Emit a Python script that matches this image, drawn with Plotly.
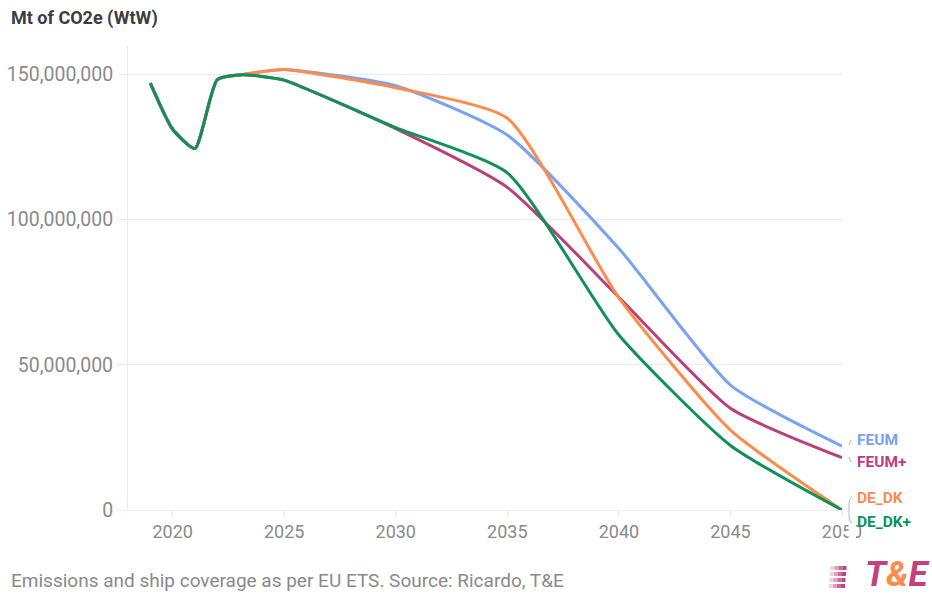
import plotly.graph_objects as go

# Well-to-wake emissions, tonnes CO2e
years = [2019, 2020, 2021, 2022, 2023, 2024, 2025, 2030, 2035, 2040, 2045, 2050]
feum = [146_900_000, 131_000_000, 124_400_000, 148_100_000, 149_700_000, 150_800_000,
        151_600_000, 146_000_000, 129_000_000, 90_000_000, 43_000_000, 22_000_000]
feum_plus = [146_900_000, 131_000_000, 124_400_000, 148_100_000, 149_700_000, 149_200_000,
             147_900_000, 131_200_000, 111_000_000, 73_200_000, 35_000_000, 18_000_000]
de_dk = [146_900_000, 131_000_000, 124_400_000, 148_100_000, 149_700_000, 150_800_000,
         151_600_000, 145_300_000, 134_800_000, 73_000_000, 27_500_000, 0]
de_dk_plus = [146_900_000, 131_000_000, 124_400_000, 148_100_000, 149_700_000, 149_200_000,
              147_900_000, 131_600_000, 116_000_000, 60_200_000, 22_200_000, 0]

series_names = ["FEUM", "FEUM+", "DE_DK", "DE_DK+"]
series_values = [feum, feum_plus, de_dk, de_dk_plus]
series_colors = ["#79a3f2", "#bb3f78", "#fd8b4c", "#0f9158"]

y_ticks = [0, 50_000_000, 100_000_000, 150_000_000]
x_ticks = [2020, 2025, 2030, 2035, 2040, 2045, 2050]

W, H = 932, 596
L, R, T, B = 128, 842, 45, 510


def px(x):
    return (x - L) / (R - L)


def py(y):
    return (B - y) / (B - T)


# pixel rows of the end labels, spread apart so they do not collide
label_rows = [440, 462, 498, 522]

fig = go.Figure()
for name, vals, col in zip(series_names, series_values, series_colors):
    fig.add_trace(go.Scatter(
        x=years, y=vals, name=name, mode="lines",
        line=dict(color=col, width=3, shape="spline", smoothing=0.55),
        hoverinfo="x+y+name", cliponaxis=False,
    ))

annotations = []
for name, row, col in zip(series_names, label_rows, series_colors):
    annotations.append(dict(
        x=px(855), y=py(row), xref="paper", yref="paper", xanchor="left", yanchor="middle",
        text=f"<b>{name}</b>", showarrow=False,
        font=dict(family="Roboto", size=15.5, color=col),
    ))

annotations.append(dict(
    x=px(9), y=py(18), xref="paper", yref="paper", xanchor="left", yanchor="middle",
    text="<b>Mt of CO2e (WtW)</b>", showarrow=False,
    font=dict(family="Roboto", size=18, color="#3d3d3d"),
))
annotations.append(dict(
    x=px(9), y=py(580), xref="paper", yref="paper", xanchor="left", yanchor="middle",
    text="Emissions and ship coverage as per EU ETS. Source: Ricardo, T&amp;E",
    showarrow=False, font=dict(family="Roboto", size=19, color="#8a8a8a"),
))
annotations.append(dict(
    x=px(930), y=py(596), xref="paper", yref="paper", xanchor="right", yanchor="bottom",
    borderpad=0,
    text="<b><i>T<span style='color:#fd8b4c'>&amp;</span>E</i></b>",
    showarrow=False, font=dict(family="Roboto", size=35, color="#c2427e", weight=900),
))

shapes = []
# logo stripes
for i in range(4):
    y0 = 566 + i * 6
    for j, op in enumerate([0.25, 0.5, 0.8, 1.0]):
        x0 = 829 + j * 4 + (3 - i) * 0.5
        shapes.append(dict(
            type="rect", xref="paper", yref="paper",
            x0=px(x0), x1=px(x0 + 4), y0=py(y0), y1=py(y0 + 4),
            fillcolor="#c2427e", opacity=op, line=dict(width=0),
        ))

# white backing behind the lowest end label (covers the tail of the last year label)
shapes.append(dict(type="rect", xref="paper", yref="paper", layer="above",
                   x0=px(848.5), x1=px(856), y0=py(517), y1=py(542),
                   fillcolor="white", line=dict(width=0)))

# small leader marks between line ends and their labels
leaders = [
    f"M {px(849)},{py(445)} Q {px(850)},{py(443)} {px(851)},{py(440)}",
    f"M {px(849)},{py(457)} Q {px(850)},{py(459)} {px(851)},{py(462)}",
    f"M {px(852)},{py(497)} Q {px(849)},{py(498)} {px(849)},{py(505)} "
    f"L {px(849)},{py(515)} Q {px(849)},{py(522)} {px(852)},{py(523)}",
]
for p in leaders:
    shapes.append(dict(type="path", xref="paper", yref="paper", path=p, layer="above",
                       line=dict(color="#b5b5b5", width=1)))

fig.update_layout(
    width=W, height=H,
    margin=dict(l=L, r=W - R, t=T, b=H - B, autoexpand=False),
    paper_bgcolor="white", plot_bgcolor="white",
    showlegend=False,
    font=dict(family="Roboto", color="#8a8a8a"),
    annotations=annotations,
    shapes=shapes,
    xaxis=dict(
        range=[2018, 2050], tickvals=x_ticks, ticks="outside", ticklen=5,
        tickcolor="#e6e6e6", showgrid=False, zeroline=False, automargin=False,
        showline=True, linecolor="#ececec", linewidth=1,
        tickfont=dict(family="Roboto", size=18, color="#8a8a8a"),
    ),
    yaxis=dict(
        range=[0, 160_000_000], tickvals=y_ticks, tickformat=",d",
        ticks="outside", ticklen=10, tickcolor="#ececec", automargin=False,
        showgrid=True, gridcolor="#ececec", gridwidth=1, zeroline=False,
        showline=True, linecolor="#ececec", linewidth=1,
        tickfont=dict(family="Roboto", size=19.5, color="#8a8a8a"),
    ),
)

fig.write_html("out.html")
